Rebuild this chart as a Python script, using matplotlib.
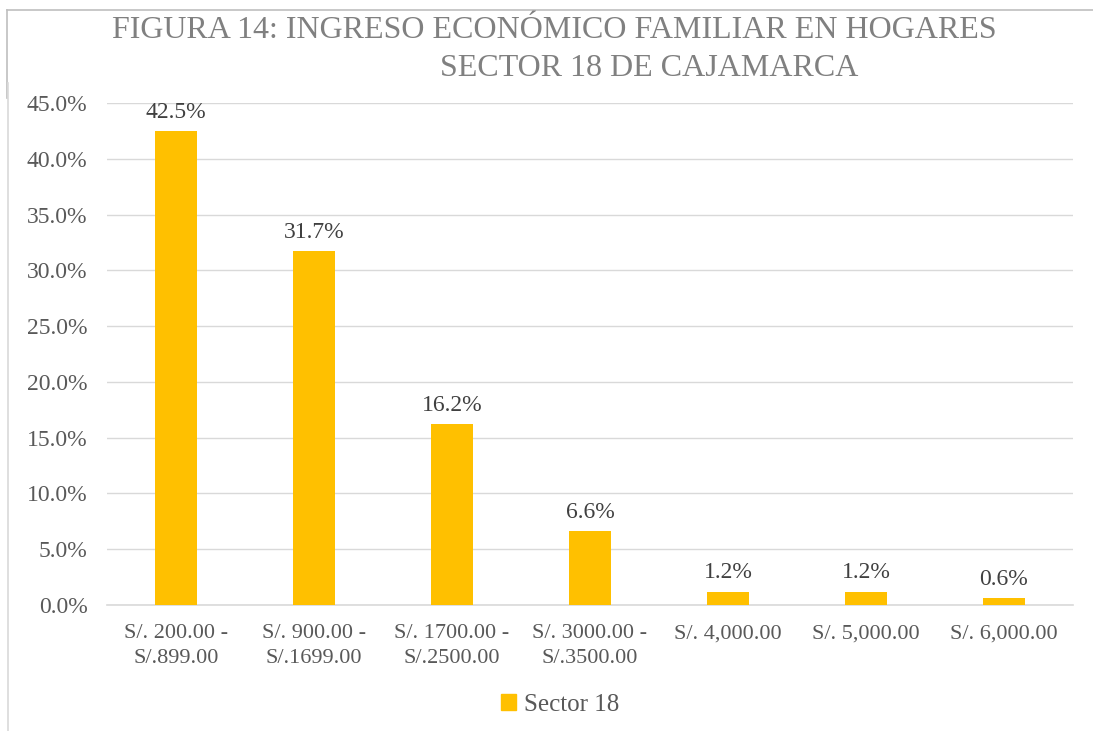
import matplotlib
matplotlib.use("Agg")
import matplotlib.pyplot as plt
from matplotlib.lines import Line2D
from matplotlib.patches import Patch

categories = ["S/. 200.00 -\nS/.899.00", "S/. 900.00 -\nS/.1699.00", "S/. 1700.00 -\nS/.2500.00",
              "S/. 3000.00 -\nS/.3500.00", "S/. 4,000.00", "S/. 5,000.00", "S/. 6,000.00"]
values = [42.5, 31.7, 16.2, 6.6, 1.2, 1.2, 0.6]
yticks = [0, 5, 10, 15, 20, 25, 30, 35, 40, 45]
series_name = "Sector 18"

plt.rcParams['font.family'] = ['Liberation Serif', 'DejaVu Serif']

fig = plt.figure(figsize=(10.93, 7.31), dpi=100)
ax = fig.add_axes([107/1093, 1-605/731, (1073-107)/1093, (605-103)/731])

bar_color = "#FFC000"
x = list(range(len(categories)))
ax.bar(x, values, width=0.31, color=bar_color, zorder=3)
ax.set_xlim(-0.5, len(categories)-0.5)
ax.set_ylim(0, 45)
ax.set_yticks(yticks)
ax.set_yticklabels([f"{v:.1f}%" for v in yticks], fontsize=17, color="#595959")
ax.set_xticks(x)
ax.set_xticklabels(categories, fontsize=16, color="#595959", linespacing=1.4)
ax.tick_params(axis='both', length=0)
ax.tick_params(axis='y', pad=14)
ax.tick_params(axis='x', pad=14)
ax.grid(axis='y', color="#d9d9d9", linewidth=1, zorder=0)
for s in ['top', 'right', 'left']:
    ax.spines[s].set_visible(False)
ax.spines['bottom'].set_color("#d9d9d9")
ax.spines['bottom'].set_linewidth(1.2)

for xi, v in zip(x, values):
    ax.annotate(f"{v}%", (xi, v), xytext=(0, 6), textcoords="offset points",
                ha="center", va="bottom", fontsize=17, color="#404040")

fig.text(554/1093, 1-31/731, "FIGURA 14: INGRESO ECONÓMICO FAMILIAR EN HOGARES",
         ha="center", va="center", fontsize=23, color="#808080")
fig.text(649/1093, 1-69/731, "SECTOR 18 DE CAJAMARCA",
         ha="center", va="center", fontsize=23, color="#808080")

leg = fig.legend(handles=[Patch(color=bar_color, label=series_name)],
                 loc="center", bbox_to_anchor=(560/1093, 1-705/731), frameon=False,
                 fontsize=18, handlelength=0.6, handleheight=0.6, handletextpad=0.3)
for t in leg.get_texts():
    t.set_color("#595959")

# frame lines
fig.add_artist(Line2D([7/1093, 1], [1-10/731, 1-10/731], color="#bfbfbf", lw=1.2))
fig.add_artist(Line2D([7/1093, 7/1093], [1-10/731, 1-98/731], color="#bfbfbf", lw=1.2))
fig.add_artist(Line2D([8/1093, 8/1093], [1-83/731, 0], color="#d9d9d9", lw=1.2))

fig.savefig("out.png", dpi=100)
